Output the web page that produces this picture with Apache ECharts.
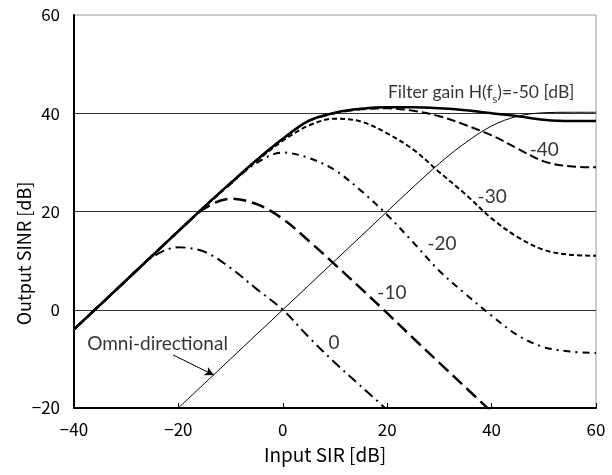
<!DOCTYPE html>
<html>
<head>
<meta charset="utf-8">
<script src="https://cdn.jsdelivr.net/npm/echarts@6/dist/echarts.min.js"></script>
<style>
  html, body {margin: 0; padding: 0; background: #fff;}
  #chart {width: 612px; height: 475px;}
</style>
</head>
<body>
<div id="chart"></div>
<script>
// input SIR [dB], sampled every 5 dB
const sirX = [-40, -35, -30, -25, -20, -15, -10, -5, 0, 5, 10, 15, 20, 25, 30, 35, 40, 45, 50, 55, 60];

// output SINR [dB] for each filter gain H(fs)
const gain50 = [-4, 1, 6, 11, 16, 21, 25.8, 30.5, 34.8, 38.5, 40.1, 40.9, 41.2, 41.2, 41.0, 40.6, 40.0, 39.4, 38.7, 38.4, 38.4];
const gain40 = [-4, 1, 6, 11, 16, 21, 25.8, 30.5, 34.8, 38.4, 40.0, 40.8, 41.0, 40.5, 39.4, 37.6, 35.5, 32.8, 30.2, 29.2, 29.0];
const gain30 = [-4, 1, 6, 11, 16, 21, 25.7, 30.3, 34.4, 37.5, 38.9, 38.3, 35.9, 32.6, 28.0, 23.5, 18.6, 14.8, 12.2, 11.2, 11.0];
const gain20 = [-4, 1, 6, 11, 16, 20.9, 25.6, 29.9, 32.0, 30.9, 28.4, 24.2, 19.3, 13.7, 7.9, 3.2, -1.2, -5.2, -7.6, -8.5, -8.8];
const gain10 = [-4, 1, 6, 11, 16, 20.6, 22.6, 21.5, 18.5, 14.0, 9.2, 4.3, -0.7, -5.8, -10.8, -15.8, -20.8];
const gain0 = [-4, 1, 6, 10.7, 12.7, 11.8, 8.5, 4.2, 0.0, -5.6, -10.8, -15.6, -20.4];
const omni = [null, null, null, null, -20, -15, -10, -5, 0, 5, 10, 15, 20, 25, 29.8, 34.0, 37.4, 39.4, 40.1, 40.2, 40.2];

// curve labels
const labelText = ['{a|Filter gain H(f}{s|s}{a|)=-50 [dB]}', '-40', '-30', '-20', '-10', '0', 'Omni-directional'];
const labelX = [38.0, 50.1, 40.1, 30.5, 20.9, 9.8, -24.0];
const labelY = [44.5, 32.5, 23.0, 13.4, 3.45, -6.8, -7.0];

// arrow pointing at the omni-directional line
const arrowFrom = [-21, -9.2];
const arrowTo = [-13.2, -13.3];

const yTicks = [-20, 0, 20, 40, 60];
const xTicks = [-40, -20, 0, 20, 40, 60];

const pairs = ys => sirX.map((x, i) => [x, ys[i]]).filter(p => p[1] != null);
const minus = v => String(v).replace('-', '\u2212');

const curve = (name, ys, width, type) => ({
    name,
    type: 'line',
    data: pairs(ys),
    smooth: 0.35,
    symbol: 'none',
    clip: true,
    lineStyle: {color: '#000', width, type},
    z: 3
});

const labelFont = 'Lato, "Open Sans", sans-serif';
const axisFont = '"Noto Sans CJK JP"';

var myChart = echarts.init(document.getElementById('chart'));
myChart.setOption({
    animation: false,
    grid: {
        left: 74,
        right: 16,
        top: 15,
        bottom: 67,
        show: true,
        borderColor: '#999',
        borderWidth: 1,
        containLabel: false,
        outerBoundsMode: 'none'
    },
    xAxis: {
        type: 'value',
        min: xTicks[0],
        max: xTicks[xTicks.length - 1],
        interval: 20,
        name: 'Input SIR [dB]',
        nameLocation: 'middle',
        nameGap: 37,
        nameTextStyle: {fontFamily: axisFont, fontSize: 19, color: '#000', padding: [0, 20, 0, 0]},
        axisLine: {show: true, onZero: false, lineStyle: {color: '#000', width: 2}},
        axisTick: {show: true, inside: true, length: 5, lineStyle: {color: '#000', width: 1}},
        axisLabel: {
            margin: 13,
            fontFamily: axisFont,
            fontSize: 17,
            color: '#000',
            formatter: minus
        },
        splitLine: {show: false}
    },
    yAxis: {
        type: 'value',
        min: yTicks[0],
        max: yTicks[yTicks.length - 1],
        interval: 20,
        name: 'Output SINR [dB]',
        nameLocation: 'middle',
        nameGap: 41,
        nameMoveOverlap: false,
        nameTextStyle: {fontFamily: axisFont, fontSize: 18, color: '#000', padding: [0, 84, 0, 0]},
        axisLine: {show: true, onZero: false, lineStyle: {color: '#000', width: 2}},
        axisTick: {show: false},
        axisLabel: {
            margin: 14,
            fontFamily: axisFont,
            fontSize: 17,
            color: '#000',
            formatter: minus
        },
        splitLine: {show: true, showMinLine: false, showMaxLine: false, lineStyle: {color: '#333', width: 1}}
    },
    series: [
        curve('-50', gain50, 2.5, 'solid'),
        curve('-40', gain40, 2, [9, 4]),
        curve('-30', gain30, 2, [5, 3]),
        curve('-20', gain20, 2, [7, 5, 2, 5]),
        curve('-10', gain10, 2.5, [13, 6]),
        curve('0', gain0, 2, [10, 5, 2, 5]),
        Object.assign(curve('Omni-directional', omni, 1, 'solid'), {
            markLine: {
                silent: true,
                symbol: ['none', 'arrow'],
                symbolSize: [7, 9],
                label: {show: false},
                lineStyle: {color: '#000', width: 1, type: 'solid'},
                data: [[{coord: arrowFrom}, {coord: arrowTo}]]
            }
        }),
        {
            type: 'scatter',
            symbolSize: 0,
            silent: true,
            data: labelX.map((x, i) => ({value: [x, labelY[i]], name: labelText[i]})),
            label: {
                show: true,
                position: 'inside',
                color: '#000',
                fontFamily: labelFont,
                fontSize: 19,
                formatter: p => p.name,
                rich: {
                    a: {fontFamily: labelFont, fontSize: 17.5, color: '#000', lineHeight: 20, verticalAlign: 'bottom'},
                    s: {fontFamily: labelFont, fontSize: 11, color: '#000', lineHeight: 14, verticalAlign: 'bottom', padding: [0, 0, -4, 0]}
                }
            },
            z: 5
        }
    ]
});
</script>
</body>
</html>
